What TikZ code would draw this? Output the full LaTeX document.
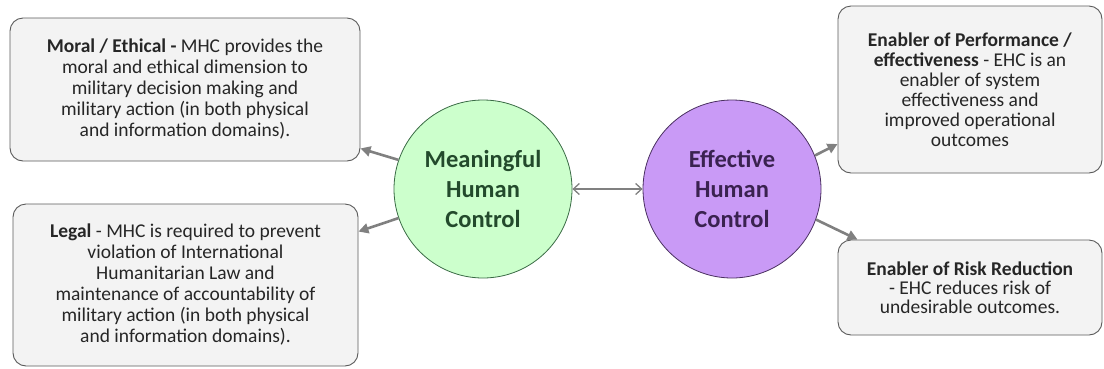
\documentclass[tikz,border=0pt]{standalone}
\usepackage{fontspec}
\setmainfont{Carlito}
\usetikzlibrary{arrows.meta}
\definecolor{boxfill}{HTML}{F3F3F3}
\definecolor{boxdraw}{HTML}{5A5A5A}
\definecolor{arrowgray}{HTML}{808080}
\definecolor{greenfill}{HTML}{CCFFCC}
\definecolor{greendraw}{HTML}{3A6B45}
\definecolor{greentext}{HTML}{234A2C}
\definecolor{purplefill}{HTML}{C99AF6}
\definecolor{purpledraw}{HTML}{4A3060}
\definecolor{purpletext}{HTML}{3A2250}
\tikzset{
  infobox/.style={draw=boxdraw, fill=boxfill, rounded corners=13pt, line width=0.9pt,
    align=center, inner sep=0pt, text=black!85, font=\fontsize{19.5}{21}\selectfont},
  bigcircle/.style={circle, minimum size=178pt, inner sep=0pt, line width=0.8pt,
    align=center, font=\bfseries\fontsize{24.5}{30}\selectfont},
  conn/.style={draw=arrowgray, line width=2.6pt, -{Triangle[length=10pt,width=10pt]}},
  link/.style={draw=arrowgray, line width=1.3pt, {Straight Barb[length=6pt,width=11pt]}-{Straight Barb[length=6pt,width=11pt]}}
}
\begin{document}
\begin{tikzpicture}[x=1pt,y=-1pt]
\useasboundingbox (0,0) rectangle (1104,368);
\node[infobox, minimum width=350pt, minimum height=143pt] (moral) at (185,89.5)
  {\textbf{Moral / Ethical -} MHC provides the\\moral and ethical dimension to\\military decision making and\\military action (in both physical\\and information domains).};
\node[infobox, minimum width=345pt, minimum height=162pt] (legal) at (185.5,285)
  {\textbf{Legal} - MHC is required to prevent\\violation of International\\Humanitarian Law and\\maintenance of accountability of\\military action (in both physical\\and information domains).};
\node[infobox, font=\fontsize{19.5}{20}\selectfont, minimum width=264pt, minimum height=167pt] (perf) at (970,89.5)
  {\textbf{Enabler of Performance /}\\\textbf{effectiveness} - EHC is an\\enabler of system\\effectiveness and\\improved operational\\outcomes};
\node[infobox, font=\fontsize{19.5}{19}\selectfont, minimum width=264pt, minimum height=95pt] (risk) at (970,287.5)
  {\textbf{Enabler of Risk Reduction}\\- EHC reduces risk of\\undesirable outcomes.};
\node[bigcircle, fill=greenfill, draw=greendraw, text=greentext] (mhc) at (483,189)
  {Meaningful\\Human\\Control};
\node[bigcircle, fill=purplefill, draw=purpledraw, text=purpletext] (ehc) at (732,189)
  {Effective\\Human\\Control};
\draw[conn] (mhc.161) -- ([yshift=13pt]moral.south east);
\draw[conn] (mhc.199) -- ([yshift=-28pt]legal.north east);
\draw[link] (mhc.east) -- (ehc.west);
\draw[conn] (ehc.22) -- ([yshift=-54.5pt]perf.west);
\draw[conn] (ehc.-20) -- ([xshift=20pt]risk.north west);
\end{tikzpicture}
\end{document}
